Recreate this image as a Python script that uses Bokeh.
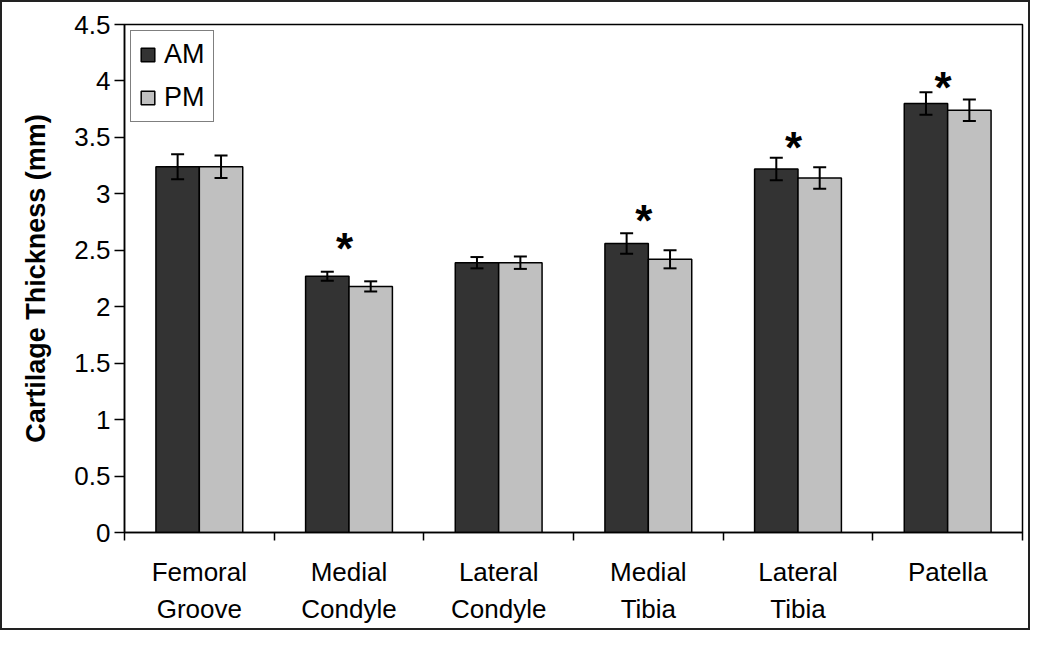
from bokeh.plotting import figure
from bokeh.models import (ColumnDataSource, Range1d, FixedTicker, CustomJSTickFormatter,
                          Whisker, TeeHead, Legend, LegendItem)
from bokeh.core.properties import value
from bokeh.embed import file_html
from bokeh.resources import INLINE

# ---- data ----
categories = ["Femoral\nGroove", "Medial\nCondyle", "Lateral\nCondyle",
              "Medial\nTibia", "Lateral\nTibia", "Patella"]
am_values = [3.24, 2.27, 2.39, 2.56, 3.22, 3.80]
am_errors = [0.11, 0.04, 0.05, 0.09, 0.10, 0.10]
pm_values = [3.24, 2.18, 2.39, 2.42, 3.14, 3.74]
pm_errors = [0.10, 0.045, 0.055, 0.08, 0.095, 0.095]
significant = [False, True, False, True, True, True]
star_heights = [0, 2.52, 0, 2.76, 3.41, 3.94]
y_ticks = [0, 0.5, 1, 1.5, 2, 2.5, 3, 3.5, 4, 4.5]

FONT = "Liberation Sans"
AM_COLOR = "#333333"
PM_COLOR = "#c0c0c0"
BAR_W = 0.29

n = len(categories)
centers = [i + 0.5 for i in range(n)]
am_x = [c - BAR_W / 2 for c in centers]
pm_x = [c + BAR_W / 2 for c in centers]

am_src = ColumnDataSource(dict(
    x=am_x, top=am_values,
    upper=[v + e for v, e in zip(am_values, am_errors)],
    lower=[v - e for v, e in zip(am_values, am_errors)]))
pm_src = ColumnDataSource(dict(
    x=pm_x, top=pm_values,
    upper=[v + e for v, e in zip(pm_values, pm_errors)],
    lower=[v - e for v, e in zip(pm_values, pm_errors)]))

star_x = [c - 0.03 for c, s in zip(centers, significant) if s]
star_y = [h for h, s in zip(star_heights, significant) if s]
star_src = ColumnDataSource(dict(x=star_x, y=star_y, t=["*"] * len(star_x)))

p = figure(width=1030, height=630, output_backend="svg", toolbar_location=None,
           x_range=Range1d(0, n), y_range=Range1d(0, 4.5),
           min_border_left=122, min_border_right=10, min_border_top=22,
           min_border_bottom=100)
p.styles = {"border": "2px solid #222222"}
p.xgrid.visible = False
p.ygrid.visible = False
p.outline_line_color = "black"
p.outline_line_width = 1.5
p.background_fill_color = "white"
p.border_fill_color = "white"

am_r = p.vbar(x="x", top="top", width=BAR_W, bottom=0, source=am_src,
              fill_color=AM_COLOR, line_color="black", line_width=1.5)
pm_r = p.vbar(x="x", top="top", width=BAR_W, bottom=0, source=pm_src,
              fill_color=PM_COLOR, line_color="black", line_width=1.5)

for src in (am_src, pm_src):
    w = Whisker(base="x", upper="upper", lower="lower", source=src, level="overlay",
                line_color="black", line_width=2,
                upper_head=TeeHead(size=13, line_width=2, line_color="black"),
                lower_head=TeeHead(size=13, line_width=2, line_color="black"))
    p.add_layout(w)

p.text(x="x", y="y", text="t", source=star_src, text_font=value(FONT),
       text_font_size="44px", text_font_style="bold", text_align="center",
       text_baseline="middle", text_color="black")

# y axis
p.yaxis.ticker = FixedTicker(ticks=y_ticks)
p.yaxis.formatter = CustomJSTickFormatter(code="return (Math.round(tick*10)/10).toString();")
p.yaxis.axis_label = "Cartilage Thickness (mm)"
p.yaxis.axis_label_text_font = FONT
p.yaxis.axis_label_text_font_size = "27px"
p.yaxis.axis_label_text_font_style = "bold"
p.yaxis.axis_label_text_color = "black"
p.yaxis.axis_label_standoff = 20
p.yaxis.major_label_text_font = FONT
p.yaxis.major_label_text_font_size = "26px"
p.yaxis.major_label_text_color = "black"
p.yaxis.major_tick_out = 10
p.yaxis.major_tick_in = 0
p.yaxis.major_tick_line_width = 1.5
p.yaxis.minor_tick_line_color = None
p.yaxis.axis_line_width = 1.5
p.yaxis.major_label_standoff = 4

# x axis
p.xaxis.ticker = FixedTicker(ticks=centers, minor_ticks=list(range(n + 1)))
p.xaxis.formatter = CustomJSTickFormatter(args=dict(labels=categories),
                                          code="return labels[Math.floor(tick)] || '';")
p.xaxis.major_tick_line_color = None
p.xaxis.major_tick_out = 0
p.xaxis.major_tick_in = 0
p.xaxis.minor_tick_out = 8
p.xaxis.minor_tick_in = 0
p.xaxis.minor_tick_line_width = 1.5
p.xaxis.minor_tick_line_color = "black"
p.xaxis.axis_line_width = 1.5
p.xaxis.major_label_text_font = FONT
p.xaxis.major_label_text_font_size = "26px"
p.xaxis.major_label_text_color = "black"
p.xaxis.major_label_standoff = 16
p.xaxis.major_label_text_line_height = 1.25

legend = Legend(items=[LegendItem(label="AM", renderers=[am_r]),
                       LegendItem(label="PM", renderers=[pm_r])],
                location="top_left", margin=6, padding=8, spacing=12,
                glyph_width=17, glyph_height=17, label_height=30,
                label_standoff=8, label_text_font=FONT, label_text_font_size="27px",
                label_text_color="black", border_line_color="black",
                border_line_width=1.5, background_fill_alpha=1.0)
p.add_layout(legend)

open("out.html", "w").write(file_html(p, INLINE))
